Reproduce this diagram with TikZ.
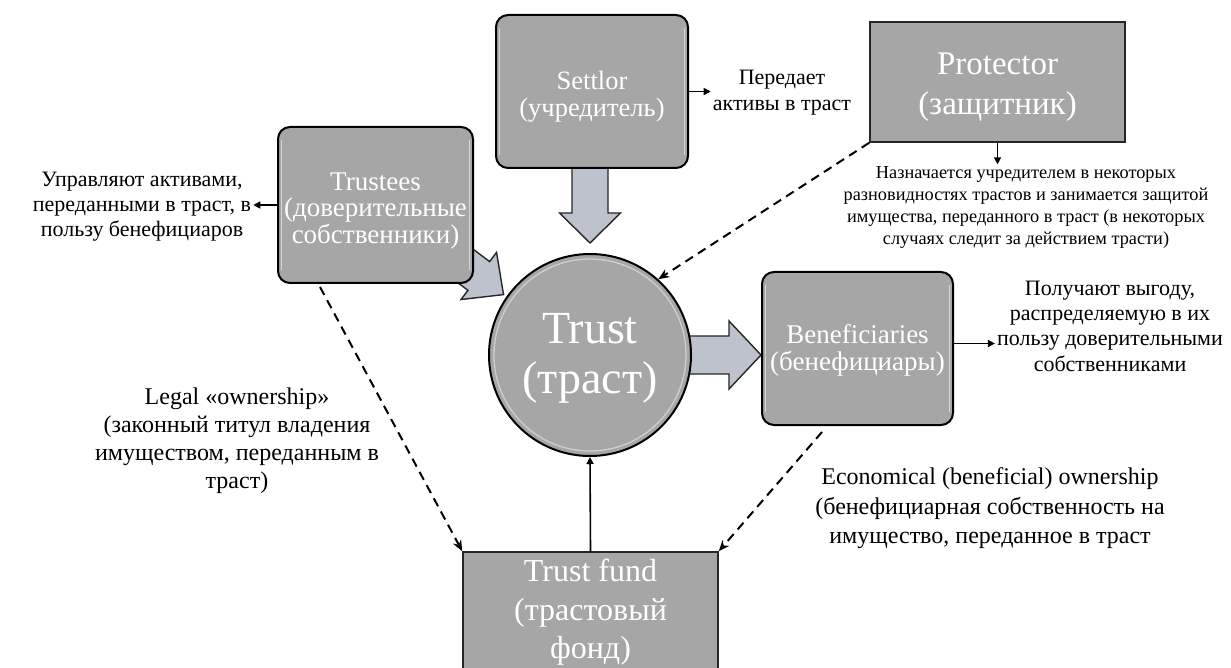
\documentclass[tikz,border=0pt]{standalone}
\usepackage{fontspec}
\setmainfont{Liberation Serif}
\usetikzlibrary{arrows.meta,backgrounds}
\definecolor{boxgray}{RGB}{166,166,166}
\definecolor{arrowfill}{RGB}{190,194,204}
\newcommand{\fsz}[2]{\fontsize{#1}{#2}\selectfont}
\newcommand{\blockarrow}[6]{%
  \path[blockarr, shift={#1}, rotate=#2] (0,0) -- (-#6,#5) -- (-#6,#4) -- (-#3,#4) -- (-#3,-#4) -- (-#6,-#4) -- (-#6,-#5) -- cycle;}
\newcommand{\bevel}[1]{%
  \draw[bevelline] ([xshift=4.5pt,yshift=-14pt]#1.north west) -- ([xshift=4.5pt,yshift=14pt]#1.south west);
  \draw[bevelline] ([xshift=-4.5pt,yshift=-14pt]#1.north east) -- ([xshift=-4.5pt,yshift=14pt]#1.south east);}
\tikzset{
  rbox/.style={draw=black, line width=2pt, fill=boxgray, rounded corners=12pt, inner sep=0pt},
  sbox/.style={draw=black!85, line width=1.5pt, fill=boxgray, inner sep=0pt},
  wtext/.style={text=white, align=center, inner sep=0pt},
  lbl/.style={align=center, text=black, inner sep=2pt},
  tarrow/.style={line width=1.6pt, -{Triangle[length=7pt,width=7pt]}},
  darrow/.style={line width=2pt, dash pattern=on 9pt off 6pt, -{Stealth[length=11pt,width=9pt]}},
  blockarr/.style={draw=black!85, line width=1.4pt, fill=arrowfill, line join=miter},
  bevelline/.style={draw=white, opacity=0.55, line width=1.3pt},
}
\begin{document}
\begin{tikzpicture}[x=1pt,y=-1pt]
\useasboundingbox (0,0) rectangle (1231,668);
\clip (0,0) rectangle (1231,668);

% boxes
\node[rbox, minimum width=192pt, minimum height=153pt] (settlor) at (592,91.5) {};
\bevel{settlor}
\node[wtext, font=\fsz{26.5}{27}] (settlortxt) at (592,96.5) {Settlor\\(учредитель)};

\node[rbox, minimum width=195pt, minimum height=156pt] (trustees) at (375.5,205) {};
\bevel{trustees}
\node[wtext, font=\fsz{27}{26.5}] (trusteestxt) at (375.5,211) {Trustees\\(доверительные\\собственники)};

\node[rbox, minimum width=191pt, minimum height=153pt] (ben) at (857.5,348.5) {};
\bevel{ben}
\node[wtext, font=\fsz{27}{27}] (bentxt) at (857.5,350) {Beneficiaries\\(бенефициары)};

\node[sbox, minimum width=255pt, minimum height=120pt] (prot) at (997.5,82) {};
\node[wtext, font=\fsz{33}{40}] (prottxt) at (997.5,87) {Protector\\(защитник)};

\node[circle, draw=black, line width=2pt, fill=boxgray, minimum size=202pt, inner sep=0pt] (trust) at (590,355) {};
\draw[bevelline, opacity=0.45] (trust.center) circle[radius=96pt];
\node[wtext, font=\fsz{46}{50}] (trusttxt) at (590,358) {Trust\\(траст)};

\node[sbox, minimum width=255pt, minimum height=150pt] (fund) at (590.5,627) {};
\node[wtext, font=\fsz{32}{38.5}] (fundtxt) at (590.5,612.5) {Trust fund\\(трастовый\\фонд)};

% block arrows (behind the boxes)
\begin{scope}[on background layer]
\fill[white] (0,0) rectangle (1231,668);
\blockarrow{([yshift=10pt]trust.north)}{-90}{85}{18}{30.5}{30}
\blockarrow{(ben.west |- trust.east)}{0}{80}{19}{34}{32}
\blockarrow{([shift={(-5pt,-1pt)}]trust.143)}{-37}{72}{18}{29.5}{31}
\end{scope}

% labels
\node[lbl, font=\fsz{22}{26}] (pass) at (782,93) {Передает\\активы в траст};
\node[lbl, font=\fsz{22}{25}] (manage) at (142,207) {Управляют активами,\\переданными в траст, в\\пользу бенефициаров};
\node[lbl, font=\fsz{18.3}{22}] (pdesc) at (1026,207.5) {Назначается учредителем в некоторых\\разновидностях трастов и занимается защитой\\имущества, переданного в траст (в некоторых\\случаях следит за действием трасти)};
\node[lbl, font=\fsz{22}{25.3}] (recv) at (1110,326) {Получают выгоду,\\распределяемую в их\\пользу доверительными\\собственниками};
\node[lbl, font=\fsz{24}{28}] (legal) at (237,441) {Legal «ownership»\\(законный титул владения\\имуществом, переданным в\\траст)};
\node[lbl, font=\fsz{24}{29.5}] (econ) at (990,508.5) {Economical (beneficial) ownership\\(бенефициарная собственность на\\имущество, переданное в траст};

% thin arrows
\draw[tarrow] (settlor.east) -- (settlor.east -| pass.west);
\draw[tarrow] (trustees.west) -- (trustees.west -| manage.east);
\draw[tarrow] (prot.south) -- (prot.south |- pdesc.north);
\draw[tarrow] ([yshift=5pt]ben.east) -- ([yshift=5pt]ben.east -| recv.west);
\draw[tarrow] (fund.north) -- (trust.south);

% dashed arrows
\coordinate (dsA) at (320,287);
\coordinate (dsB) at (822,432);
\draw[darrow] (prot.south west) -- (trust.48);
\draw[darrow] (dsA) -- (fund.north west);
\draw[darrow] (dsB) -- (fund.north east);
\end{tikzpicture}
\end{document}
